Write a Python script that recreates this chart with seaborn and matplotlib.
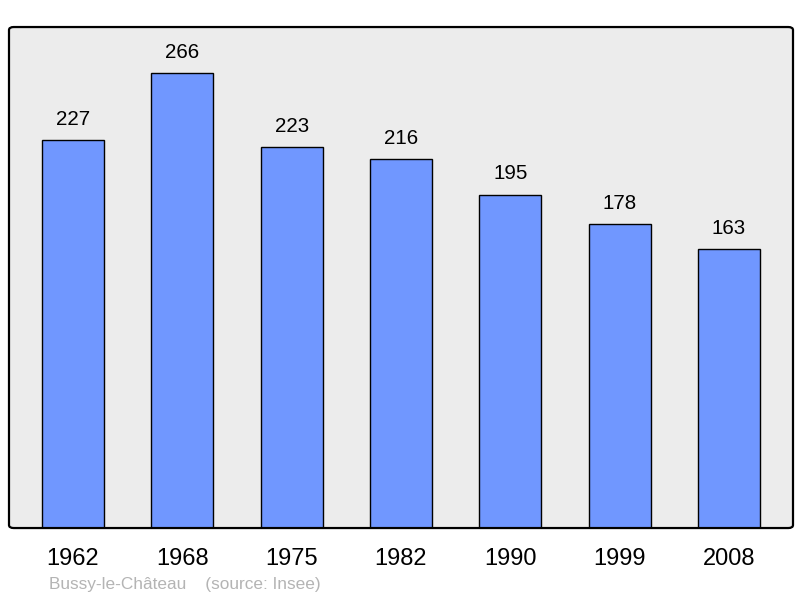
import matplotlib
matplotlib.use("Agg")
import matplotlib.pyplot as plt
from matplotlib.patches import FancyBboxPatch
import seaborn as sns
import pandas as pd

years = ["1962", "1968", "1975", "1982", "1990", "1999", "2008"]
population = [227, 266, 223, 216, 195, 178, 163]

sns.set_theme(style="white")
plt.rcParams['font.family'] = ['Liberation Sans', 'DejaVu Sans']

df = pd.DataFrame({"year": years, "pop": population})

fig = plt.figure(figsize=(8, 5.98), dpi=100)
ax = fig.add_axes([0.01125, 0.117, 0.98, 0.8378])
ax.set_facecolor("#ececec")

sns.barplot(data=df, x="year", y="pop", color="#7097ff", saturation=1,
            width=0.567, edgecolor="black", linewidth=1, ax=ax)

for i, v in enumerate(population):
    ax.annotate(str(v), (i, v), xytext=(0, 8), textcoords="offset points",
                ha="center", va="bottom", fontsize=14.8, color="black")

ax.set_xlim(-0.585, 6.585)
ax.set_ylim(0, 293)
ax.set_xlabel("")
ax.set_ylabel("")
ax.set_yticks([])
ax.tick_params(axis="x", length=0, labelsize=17, pad=14.5, labelcolor="black")
for s in ax.spines.values():
    s.set_visible(False)

# rounded frame
frame = FancyBboxPatch((0, 0), 1, 1, boxstyle="round,pad=0,rounding_size=0.006",
                       transform=ax.transAxes, facecolor="none",
                       edgecolor="black", linewidth=1.6, clip_on=False, zorder=5)
ax.add_patch(frame)

fig.text(49 / 800, 1 - 584 / 598, "Bussy-le-Château    (source: Insee)",
         color="#b4b4b4", fontsize=12.4, va="center", ha="left")

fig.savefig("out.png", dpi=100)
